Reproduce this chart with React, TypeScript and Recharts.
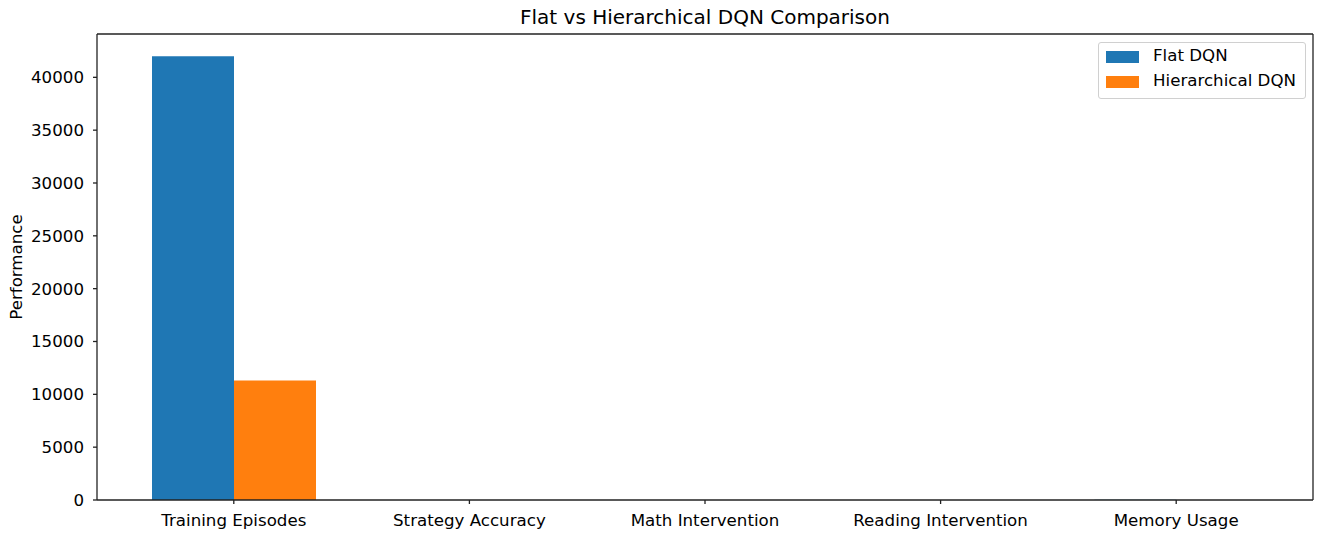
import React from 'react';
import { BarChart, Bar, XAxis, YAxis } from 'recharts';

if (typeof document !== 'undefined') {
  document.body.style.margin = '0';
}

const categories = ['Training Episodes', 'Strategy Accuracy', 'Math Intervention', 'Reading Intervention', 'Memory Usage'];
const flatDQN = [42000, 0.78, 0.72, 0.69, 12.4];
const hierarchicalDQN = [11300, 0.91, 0.88, 0.85, 8.7];
const yTicks = [0, 5000, 10000, 15000, 20000, 25000, 30000, 35000, 40000];
const seriesNames = ['Flat DQN', 'Hierarchical DQN'];
const seriesColors = ['#1f77b4', '#ff7f0e'];

const data = categories.map((c, i) => ({ name: c, flat: flatDQN[i], hier: hierarchicalDQN[i] }));

const FONT = 'DejaVu Sans, sans-serif';
const AX = '#222';

const LegendBox = () => (
  <div
    style={{
      position: 'absolute',
      left: 1098,
      top: 42,
      width: 208,
      height: 57,
      border: '1px solid #d0d0d0',
      borderRadius: 3,
      background: 'rgba(255,255,255,0.8)',
      boxSizing: 'border-box',
      fontFamily: FONT,
      fontSize: 16.67,
      color: '#000',
    }}
  >
    {seriesNames.map((n, i) => (
      <React.Fragment key={n}>
        <div style={{ position: 'absolute', left: 7, top: 8 + i * 25, width: 33, height: 12, background: seriesColors[i] }} />
        <div style={{ position: 'absolute', left: 54, top: 3 + i * 25, lineHeight: '20px', whiteSpace: 'nowrap' }}>{n}</div>
      </React.Fragment>
    ))}
  </div>
);

export default function App() {
  return (
    <div style={{ position: 'relative', width: 1325, height: 537, background: '#fff' }}>
      <div
        style={{
          position: 'absolute',
          left: 97,
          width: 1216,
          top: 4,
          textAlign: 'center',
          fontFamily: FONT,
          fontSize: 20,
          lineHeight: '26px',
          color: '#000',
        }}
      >
        Flat vs Hierarchical DQN Comparison
      </div>
      <BarChart
        width={1325}
        height={537}
        data={data}
        margin={{ top: 33, right: 11, left: 0, bottom: 7 }}
        barGap={0}
        barSize={82}
        style={{ fontFamily: FONT }}
      >
        <XAxis
          dataKey="name"
          height={30}
          padding={{ left: 19, right: 19 }}
          tickSize={4}
          tickMargin={10}
          interval={0}
          axisLine={{ stroke: AX, strokeWidth: 1.3 }}
          tickLine={{ stroke: AX, strokeWidth: 1.3 }}
          tick={{ fill: '#000', fontSize: 16.67, fontFamily: FONT }}
        />
        <XAxis
          xAxisId="top"
          dataKey="name"
          orientation="top"
          height={1}
          tick={false}
          tickLine={false}
          padding={{ left: 19, right: 19 }}
          axisLine={{ stroke: AX, strokeWidth: 1.3 }}
        />
        <YAxis
          width={97}
          domain={[0, 44100]}
          ticks={yTicks}
          allowDataOverflow
          tickSize={4}
          tickMargin={9}
          axisLine={{ stroke: AX, strokeWidth: 1.3 }}
          tickLine={{ stroke: AX, strokeWidth: 1.3 }}
          tick={{ fill: '#000', fontSize: 16.67, fontFamily: FONT }}
          label={{
            content: () => (
              <text
                x={16}
                y={267}
                transform="rotate(-90 16 267)"
                textAnchor="middle"
                dominantBaseline="central"
                fontSize={16.67}
                fontFamily={FONT}
                fill="#000"
              >
                Performance
              </text>
            ),
          }}
        />
        <YAxis
          yAxisId="r"
          orientation="right"
          width={1}
          domain={[0, 44100]}
          tick={false}
          tickLine={false}
          axisLine={{ stroke: AX, strokeWidth: 1.3 }}
        />
        <Bar dataKey="flat" name={seriesNames[0]} fill={seriesColors[0]} isAnimationActive={false} />
        <Bar dataKey="hier" name={seriesNames[1]} fill={seriesColors[1]} isAnimationActive={false} />
      </BarChart>
      <LegendBox />
    </div>
  );
}
